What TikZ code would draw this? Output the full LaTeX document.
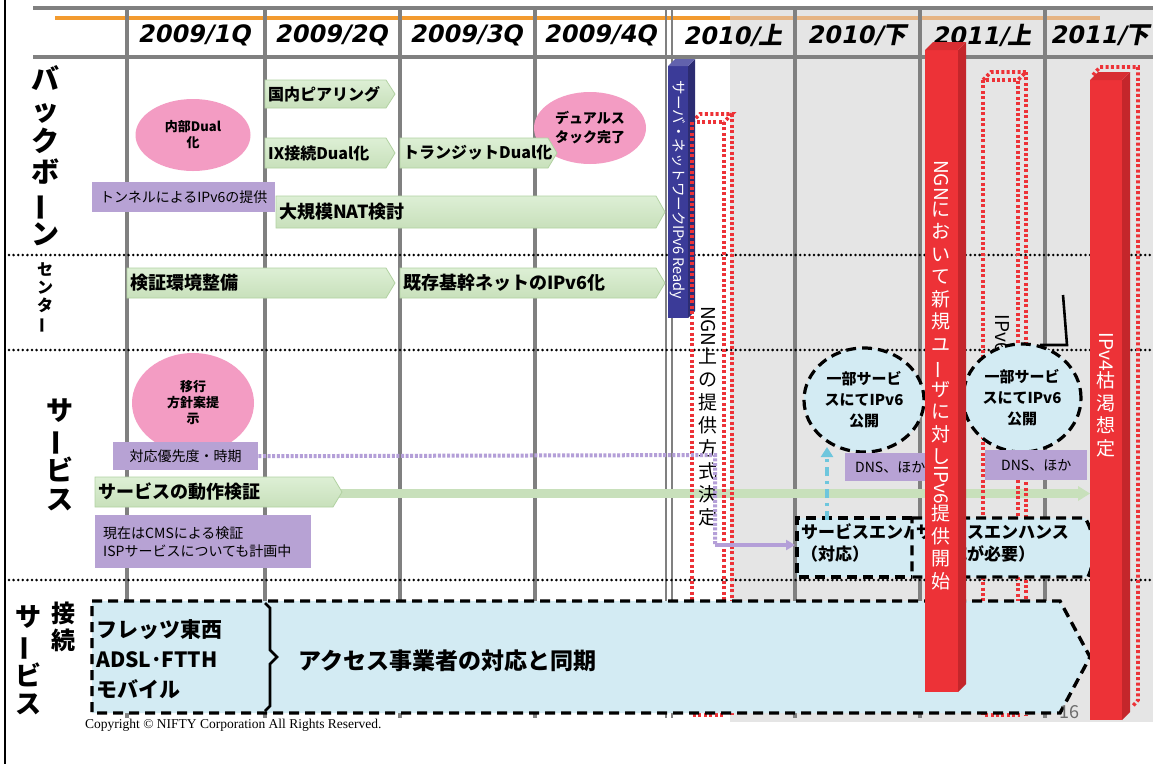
\documentclass[tikz,border=0pt]{standalone}
\usepackage{graphicx}
\usepackage{fontspec}
\setmainfont{Noto Sans CJK JP}
\newfontfamily\hdrjp[FakeSlant=0.2]{Noto Sans CJK JP}
\newfontfamily\dvb[FakeSlant=0.2]{DejaVu Sans}
\newfontfamily\cpyfont{Liberation Serif}
\usetikzlibrary{arrows.meta,shapes.geometric}
\definecolor{gridgray}{HTML}{808080}
\definecolor{orangeL}{HTML}{F39B2F}
\definecolor{orangeD}{HTML}{E6B483}
\definecolor{bggray}{HTML}{E5E5E5}
\definecolor{gfillT}{HTML}{DDEFD5}
\definecolor{gfillB}{HTML}{C8E0BB}
\definecolor{gedge}{HTML}{B2D2A2}
\definecolor{pinkc}{HTML}{F39CC3}
\definecolor{purp}{HTML}{B7A2D4}
\definecolor{bluebar}{HTML}{3B3B98}
\definecolor{redc}{HTML}{ED3237}
\definecolor{redside}{HTML}{C4262B}
\definecolor{redtop}{HTML}{D82D32}
\definecolor{lblue}{HTML}{D3EBF3}
\definecolor{cyanc}{HTML}{6EC6DD}
\definecolor{plinec}{HTML}{B49FD8}
\newcommand\chouon{\rotatebox[origin=c]{90}{ー}}
\newcommand\rotl[1]{\rotatebox[origin=c]{-90}{#1}}
\newcommand\garrow[7]{%
  \path[top color=gfillT,bottom color=gfillB,draw=gedge,line width=0.8pt]
    (#2,#3) -- ({#4-9},#3) -- (#4,{(#3+#5)/2}) -- ({#4-9},#5) -- (#2,#5) -- cycle;
  \node[gtext,font={\bfseries\fontsize{#7}{#7}\selectfont},anchor=west] (#1) at ({#2+3},{(#3+#5)/2}) {#6};}
\begin{document}
\begin{tikzpicture}[x=1pt,y=-1pt,
  hdr/.style={inner sep=0,font={\bfseries\fontsize{24}{26}\selectfont}},
  gtext/.style={inner sep=0,text=black},
  vlab/.style={align=center,inner sep=0},
  pinkell/.style={ellipse,fill=pinkc,align=center,inner sep=0,font={\bfseries\fontsize{13}{16}\selectfont}},
  pbox/.style={fill=purp,inner sep=0,anchor=north west,font={\fontsize{14}{18}\selectfont}},
  bell/.style={ellipse,fill=lblue,draw=black,line width=3.2pt,dash pattern=on 10pt off 6pt,align=center,inner sep=0,font={\bfseries\fontsize{15}{21}\selectfont}},
  gridline/.style={draw=gridgray,line width=4pt},
  secline/.style={draw=black,line width=2.8pt,line cap=round,dash pattern=on 0pt off 4.6pt},
  reddot/.style={draw=redc,line width=3.6pt,dash pattern=on 3pt off 2.4pt},
  boxdash/.style={draw=black,line width=3.4pt,dash pattern=on 10pt off 6pt},
  barlab/.style={align=center,inner sep=0,text=white,font={\fontsize{19}{22.5}\selectfont}}]
\useasboundingbox (0,0) rectangle (1153,764);
\fill[white] (0,0) rectangle (1153,764);
\fill[bggray] (730,6) rectangle (1153,722);
\draw[black,line width=1.6pt] (5,0) -- (5,764);
% header lines
\draw[gridline] (33,8) -- (1153,8);
\draw[gridline] (33,57) -- (1153,57);
\draw[draw=orangeL,line width=4.5pt] (55,18) -- (730,18);
\draw[draw=orangeD,line width=4.5pt] (730,18) -- (1100,18);
% column lines
\foreach \cx in {127,265,400,535,795,920,1045} \draw[gridline] (\cx,8) -- (\cx,718);
\draw[draw=gridgray,line width=2.5pt] (666,8) -- (666,718);
\draw[draw=gridgray,line width=2.5pt] (672,8) -- (672,718);
% header texts
\node[hdr] (h1) at (194,35) {\dvb 2009/1Q};
\node[hdr] (h2) at (331,35) {\dvb 2009/2Q};
\node[hdr] (h3) at (466,35) {\dvb 2009/3Q};
\node[hdr] (h4) at (600,35) {\dvb 2009/4Q};
\node[hdr] (h5) at (733,35) {\dvb 2010/\hdrjp 上};
\node[hdr] (h6) at (857,35) {\dvb 2010/\hdrjp 下};
\node[hdr] (h7) at (982,35) {\dvb 2011/\hdrjp 上};
\node[hdr] (h8) at (1100,35) {\dvb 2011/\hdrjp 下};
% section dotted lines
\draw[secline] (9,255) -- (1153,255);
\draw[secline] (9,350) -- (1153,350);
\draw[secline] (9,580) -- (1153,580);
% left labels
\node[vlab,font={\bfseries\fontsize{28}{31}\selectfont}] (lbb) at (45,156) {バ\\ッ\\ク\\ボ\\\chouon\\ン};
\node[vlab,font={\bfseries\fontsize{16}{18}\selectfont}] (lct) at (45,298) {セ\\ン\\タ\\\chouon};
\node[vlab,font={\bfseries\fontsize{27}{29}\selectfont}] (lsv) at (60,455) {サ\\\chouon\\ビ\\ス};
\node[vlab,font={\bfseries\fontsize{26}{28}\selectfont}] (lcs1) at (28,660) {サ\\\chouon\\ビ\\ス};
\node[vlab,font={\bfseries\fontsize{24}{27}\selectfont}] (lcs2) at (63,627) {接\\続};
% backbone
\node[pinkell,minimum width=115pt,minimum height=72pt] (e1) at (193,135) {内部Dual\\化};
\node[pinkell,minimum width=112pt,minimum height=72pt,font={\bfseries\fontsize{14}{19}\selectfont}] (e2) at (590,128) {デュアルス\\タック完了};
\garrow{g1}{265}{80}{395}{108}{国内ピアリング}{16}
\garrow{g2}{265}{138}{395}{168}{IX接続Dual化}{16}
\garrow{g3}{400}{138}{557}{168}{トランジットDual化}{16}
\node[pbox,minimum width=183pt,minimum height=30pt] (p1) at (92,182) {トンネルによるIPv6の提供};
\garrow{g4}{276}{196}{665}{228}{大規模NAT検討}{18}
% center
\garrow{g5}{127}{268}{395}{298}{検証環境整備}{18}
\garrow{g6}{400}{268}{665}{298}{既存基幹ネットのIPv6化}{18}
% service
\node[pinkell,minimum width=122pt,minimum height=100pt] (e3) at (193,403) {移行\\方針案提\\示};
\node[pbox,minimum width=145pt,minimum height=28pt] (p2) at (113,442) {対応優先度・時期};
\fill[gfillB] (335,489) rectangle (1080,498);
\fill[gfillB] (1078,486) -- (1090,493.5) -- (1078,501) -- cycle;
\garrow{g7}{95}{477}{342}{507}{サービスの動作検証}{18}
\node[pbox,minimum width=210pt,minimum height=53pt,align=left,text width=200pt,inner xsep=8pt] (p3) at (95,515) {現在はCMSによる検証\\ISPサービスについても計画中};
% red dotted bars
\draw[reddot] (692,122) rectangle (724,715);
\draw[reddot] (692,122) -- (700,114) -- (732,114) -- (724,122);
\draw[reddot] (732,114) -- (732,715);
\node[align=center,inner sep=0,font={\fontsize{19}{23}\selectfont}] (t1) at (708,416) {\rotl{NGN}\\上\\の\\提\\供\\方\\式\\決\\定};
\draw[reddot] (983,80) rectangle (1018,715);
\draw[reddot] (983,80) -- (991,72) -- (1026,72) -- (1018,80);
\draw[reddot] (1026,72) -- (1026,715);
\node[inner sep=0,font={\fontsize{19}{22}\selectfont}] (t2) at (1002,334) {\rotl{IPv6}};
\draw[line width=2.6pt] (1063,295) -- (1067,345) -- (1040,345);
% purple dotted connector
\coordinate (pc1) at (715,455);
\coordinate (pc2) at (715,545);
\coordinate (pc3) at (795,545);
\coordinate (pc4) at (802,545);
\coordinate (pc5) at (884,545);
\draw[draw=plinec,line width=4pt,dash pattern=on 3pt off 1.6pt] (p2.east) -- (pc1) -- (pc2);
\draw[draw=plinec,line width=4pt,-{Triangle[length=9pt,width=10pt]}] (pc2) -- (pc3);
% ellipses
\node[bell,minimum width=120pt,minimum height=104pt] (e4) at (864,400) {一部サービ\\スにてIPv6\\公開};
\node[bell,minimum width=118pt,minimum height=108pt] (e5) at (1022,398) {一部サービ\\スにてIPv6\\公開};
\node[pbox,minimum width=100pt,minimum height=28pt,align=left,text width=90pt,inner xsep=10pt] (p4) at (845,453) {DNS、ほか};
\node[pbox,minimum width=102pt,minimum height=30pt] (p5) at (985,450) {DNS、ほか};
\draw[draw=plinec,line width=4pt,dash pattern=on 3pt off 1.6pt,-{Triangle[length=9pt,width=10pt]}] (pc4) -- (pc5);
% service enhance boxes
\fill[lblue] (797,518) rectangle (912,577);
\node[anchor=north west,inner sep=0,font={\bfseries\fontsize{17}{22}\selectfont},align=left] (s1t) at (801,523) {サービスエンハンス\\（対応）};
\draw[boxdash] (912,518) -- (797,518) -- (797,577) -- (912,577);
\coordinate (ca1) at (827,520);
\coordinate (ca2) at (827,447);
\draw[draw=cyanc,line width=3.5pt,dash pattern=on 9pt off 5pt on 3pt off 5pt,-{Triangle[length=10pt,width=12pt]}] (ca1) -- (ca2);
\path[fill=lblue,boxdash] (912,518) -- (1085,518) .. controls (1096,535) and (1096,560) .. (1088,577) -- (912,577) -- cycle;
\node[anchor=north west,inner sep=0,font={\bfseries\fontsize{17}{22}\selectfont},align=left] (s2) at (916,523) {サービスエンハンス\\（対応が必要）};
% connection big box
\path[fill=lblue,boxdash] (92,601) -- (1060,601) -- (1090,657) -- (1060,713) -- (92,713) -- cycle;
\draw[line width=2.6pt] (265,603) -- (270,608) -- (270,650) -- (277,657) -- (270,664) -- (270,706) -- (265,711);
\node[anchor=west,inner sep=0,align=left,font={\bfseries\fontsize{21}{30}\selectfont}] (c1) at (96,659) {フレッツ東西\\ADSL･FTTH\\モバイル};
\node[anchor=west,inner sep=0,font={\bfseries\fontsize{23}{25}\selectfont}] (c2) at (298,661) {アクセス事業者の対応と同期};
% red solid bars
\fill[redc] (925,50) rectangle (958,692);
\fill[redside] (958,50) -- (966,42) -- (966,684) -- (958,692) -- cycle;
\fill[redtop] (925,50) -- (933,42) -- (966,42) -- (958,50) -- cycle;
\node[barlab] (b1) at (941,375) {\rotl{NGN}\\に\\お\\い\\て\\新\\規\\ユ\\\chouon\\ザ\\に\\対\\し\\\rotl{IPv6}\\提\\供\\開\\始};
\draw[reddot] (1093,75) -- (1100,67) -- (1138,67) -- (1138,700) -- (1132,707);
\fill[redc] (1090,80) rectangle (1122,720);
\fill[redside] (1122,80) -- (1130,72) -- (1130,712) -- (1122,720) -- cycle;
\fill[redtop] (1090,80) -- (1098,72) -- (1130,72) -- (1122,80) -- cycle;
\node[barlab] (b3) at (1106,395) {\rotl{IPv4}\\枯\\渇\\想\\定};
% blue bar
\fill[bluebar] (668,66) rectangle (688,318);
\fill[bluebar!75!black] (688,66) -- (695,59) -- (695,311) -- (688,318) -- cycle;
\fill[bluebar!80!white] (668,66) -- (675,59) -- (695,59) -- (688,66) -- cycle;
\node[rotate=-90,inner sep=0,text=white,font={\fontsize{14.5}{16}\selectfont}] (bt) at (678,190) {サーバ・ネットワークIPv6 Ready};
\draw[reddot] (692,122) -- (692,318);
% footer
\node[inner sep=0,text=gray!85!black,font={\fontsize{18}{20}\selectfont}] (pg) at (1069,712) {16};
\node[anchor=west,inner sep=0,font={\cpyfont\fontsize{13.5}{15}\selectfont}] (cp) at (85,725) {Copyright © NIFTY Corporation All Rights Reserved.};
\end{tikzpicture}
\end{document}
